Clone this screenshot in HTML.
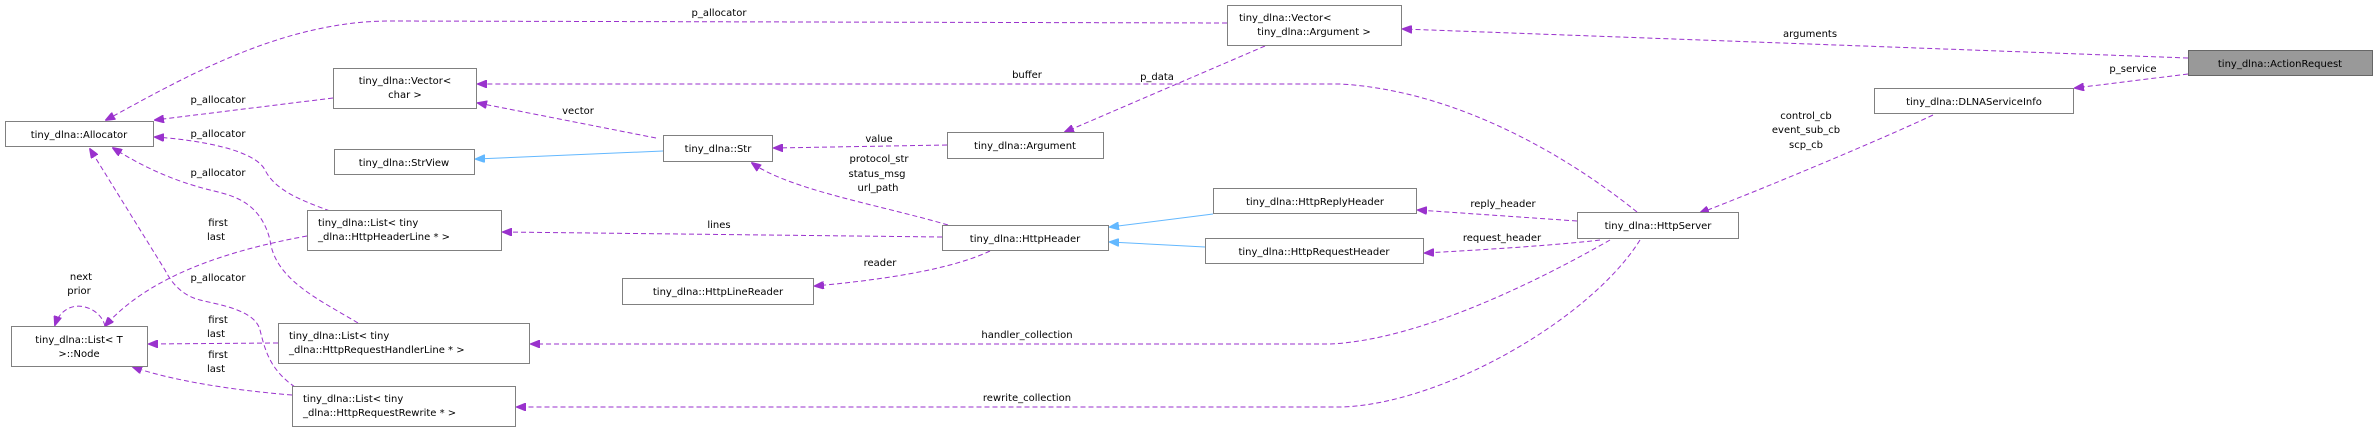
<!DOCTYPE html>
<html><head><meta charset="utf-8"><style>
html,body{margin:0;padding:0;background:#fff;}
svg{display:block;}
text{font-family:"DejaVu Sans","Liberation Sans",sans-serif;font-size:10px;fill:#000;}
.n{fill:#fff;stroke:#808080;stroke-width:1;}
.e{fill:none;stroke:#9a32cd;stroke-width:1;stroke-dasharray:5,3;}
.b{fill:none;stroke:#63b8ff;stroke-width:1;}
.ah{fill:#9a32cd;stroke:#9a32cd;}
.bh{fill:#63b8ff;stroke:#63b8ff;}
</style></head><body>
<svg width="2377" height="429" viewBox="0 0 2377 429" xmlns="http://www.w3.org/2000/svg">
<defs>
<marker id="p" markerWidth="10" markerHeight="8" refX="9" refY="4" orient="auto" markerUnits="userSpaceOnUse"><path d="M0,0 L10,4 L0,8 z" class="ah"/></marker>
<marker id="q" markerWidth="10" markerHeight="8" refX="9" refY="4" orient="auto" markerUnits="userSpaceOnUse"><path d="M0,0 L10,4 L0,8 z" class="bh"/></marker>
</defs>

<!-- edges -->
<path class="e" marker-end="url(#p)" d="M2188,58 L1403,29"/>
<text x="1810" y="37" text-anchor="middle">arguments</text>
<path class="e" marker-end="url(#p)" d="M2188,74 L2075,88"/>
<text x="2133" y="72" text-anchor="middle">p_service</text>
<path class="e" marker-end="url(#p)" d="M1933,115 C1880,140 1760,190 1700,213"/>
<text x="1806" y="119" text-anchor="middle">control_cb</text>
<text x="1806" y="133" text-anchor="middle">event_sub_cb</text>
<text x="1806" y="148" text-anchor="middle">scp_cb</text>

<path class="e" marker-end="url(#p)" d="M1227,23 L390,21 C280,21 180,80 106,120"/>
<text x="719" y="16" text-anchor="middle">p_allocator</text>
<path class="e" marker-end="url(#p)" d="M1265,46 L1065,132"/>
<text x="1157" y="80" text-anchor="middle">p_data</text>
<path class="e" marker-end="url(#p)" d="M1637,212 C1560,150 1450,90 1340,84 L478,84"/>
<text x="1027" y="78" text-anchor="middle">buffer</text>
<path class="e" marker-end="url(#p)" d="M947,145 L774,148"/>
<text x="879" y="142" text-anchor="middle">value</text>
<path class="e" marker-end="url(#p)" d="M948,225 C880,205 790,190 752,163"/>
<text x="879" y="162" text-anchor="middle">protocol_str</text>
<text x="877" y="177" text-anchor="middle">status_msg</text>
<text x="878" y="191" text-anchor="middle">url_path</text>
<path class="e" marker-end="url(#p)" d="M656,138 L478,103"/>
<text x="578" y="114" text-anchor="middle">vector</text>
<path class="b" marker-end="url(#q)" d="M663,151 L476,159"/>
<path class="e" marker-end="url(#p)" d="M942,237 L503,232"/>
<text x="719" y="228" text-anchor="middle">lines</text>
<path class="e" marker-end="url(#p)" d="M990,251 C950,270 880,280 815,286"/>
<text x="880" y="266" text-anchor="middle">reader</text>
<path class="b" marker-end="url(#q)" d="M1213,214 L1110,227"/>
<path class="b" marker-end="url(#q)" d="M1205,247 L1110,242"/>
<path class="e" marker-end="url(#p)" d="M1577,221 L1418,210"/>
<text x="1503" y="207" text-anchor="middle">reply_header</text>
<path class="e" marker-end="url(#p)" d="M1600,240 C1560,245 1480,250 1425,253"/>
<text x="1502" y="241" text-anchor="middle">request_header</text>
<path class="e" marker-end="url(#p)" d="M1610,240 C1540,280 1420,340 1330,344 L531,344"/>
<text x="1027" y="338" text-anchor="middle">handler_collection</text>
<path class="e" marker-end="url(#p)" d="M1640,240 C1590,320 1440,405 1340,407 L517,407"/>
<text x="1027" y="401" text-anchor="middle">rewrite_collection</text>

<path class="e" marker-end="url(#p)" d="M333,98 L155,120"/>
<text x="218" y="103" text-anchor="middle">p_allocator</text>
<path class="e" marker-end="url(#p)" d="M330,211 C300,200 275,190 265,170 C255,150 200,140 155,137"/>
<text x="218" y="137" text-anchor="middle">p_allocator</text>
<path class="e" marker-end="url(#p)" d="M358,323 C320,300 275,280 270,240 C260,200 230,195 210,190 C170,180 140,165 113,148"/>
<text x="218" y="176" text-anchor="middle">p_allocator</text>
<path class="e" marker-end="url(#p)" d="M295,387 C270,370 265,350 260,330 C255,310 220,305 200,300 C180,295 170,280 165,270 L90,149"/>
<text x="218" y="281" text-anchor="middle">p_allocator</text>
<path class="e" marker-end="url(#p)" d="M307,236 C230,250 150,275 105,326"/>
<text x="218" y="226" text-anchor="middle">first</text>
<text x="216" y="240" text-anchor="middle">last</text>
<path class="e" marker-end="url(#p)" d="M278,343 L149,344"/>
<text x="218" y="323" text-anchor="middle">first</text>
<text x="216" y="337" text-anchor="middle">last</text>
<path class="e" marker-end="url(#p)" d="M292,395 C230,390 170,380 133,367"/>
<text x="218" y="358" text-anchor="middle">first</text>
<text x="216" y="372" text-anchor="middle">last</text>
<path class="e" marker-end="url(#p)" d="M105,326 C100,305 65,295 55,325"/>
<text x="81" y="280" text-anchor="middle">next</text>
<text x="79" y="294" text-anchor="middle">prior</text>

<!-- nodes -->
<rect class="n" x="5.5" y="121.5" width="148" height="25"/>
<text x="79" y="138" text-anchor="middle">tiny_dlna::Allocator</text>
<rect class="n" x="11.5" y="326.5" width="136" height="40"/>
<text x="79" y="343" text-anchor="middle">tiny_dlna::List&lt; T</text>
<text x="79" y="357" text-anchor="middle">&gt;::Node</text>
<rect class="n" x="333.5" y="68.5" width="143" height="40"/>
<text x="405" y="84" text-anchor="middle">tiny_dlna::Vector&lt;</text>
<text x="405" y="98" text-anchor="middle">char &gt;</text>
<rect class="n" x="334.5" y="149.5" width="140" height="25"/>
<text x="404" y="166" text-anchor="middle">tiny_dlna::StrView</text>
<rect class="n" x="663.5" y="135.5" width="109" height="26"/>
<text x="718" y="152" text-anchor="middle">tiny_dlna::Str</text>
<rect class="n" x="307.5" y="210.5" width="194" height="40"/>
<text x="318" y="226">tiny_dlna::List&lt; tiny</text>
<text x="318" y="240">_dlna::HttpHeaderLine * &gt;</text>
<rect class="n" x="622.5" y="278.5" width="191" height="26"/>
<text x="718" y="295" text-anchor="middle">tiny_dlna::HttpLineReader</text>
<rect class="n" x="278.5" y="323.5" width="251" height="40"/>
<text x="289" y="339">tiny_dlna::List&lt; tiny</text>
<text x="289" y="353">_dlna::HttpRequestHandlerLine * &gt;</text>
<rect class="n" x="292.5" y="386.5" width="223" height="40"/>
<text x="303" y="402">tiny_dlna::List&lt; tiny</text>
<text x="303" y="416">_dlna::HttpRequestRewrite * &gt;</text>
<rect class="n" x="1227.5" y="5.5" width="174" height="40"/>
<text x="1239" y="21">tiny_dlna::Vector&lt;</text>
<text x="1314" y="35" text-anchor="middle">tiny_dlna::Argument &gt;</text>
<rect class="n" x="947.5" y="132.5" width="156" height="26"/>
<text x="1025" y="149" text-anchor="middle">tiny_dlna::Argument</text>
<rect class="n" x="942.5" y="225.5" width="166" height="25"/>
<text x="1025" y="242" text-anchor="middle">tiny_dlna::HttpHeader</text>
<rect class="n" x="1213.5" y="188.5" width="203" height="25"/>
<text x="1315" y="205" text-anchor="middle">tiny_dlna::HttpReplyHeader</text>
<rect class="n" x="1205.5" y="238.5" width="218" height="25"/>
<text x="1314" y="255" text-anchor="middle">tiny_dlna::HttpRequestHeader</text>
<rect class="n" x="1577.5" y="212.5" width="161" height="26"/>
<text x="1658" y="229" text-anchor="middle">tiny_dlna::HttpServer</text>
<rect class="n" x="1874.5" y="88.5" width="199" height="25"/>
<text x="1974" y="105" text-anchor="middle">tiny_dlna::DLNAServiceInfo</text>
<rect x="2188.5" y="50.5" width="184" height="25" fill="#999" stroke="#666"/>
<text x="2280" y="67" text-anchor="middle">tiny_dlna::ActionRequest</text>
</svg>
</body></html>
